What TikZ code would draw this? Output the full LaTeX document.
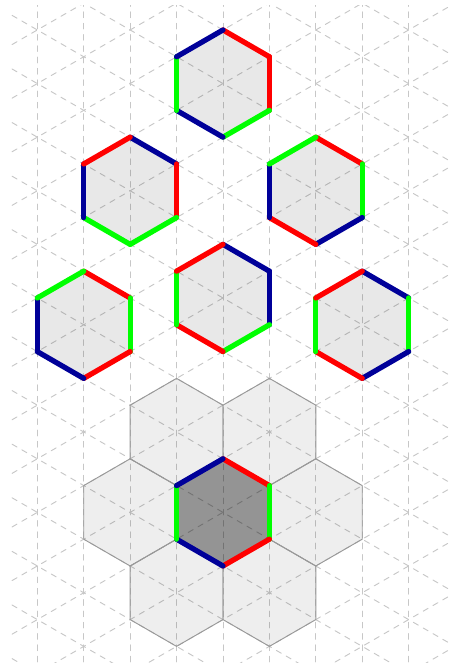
\documentclass[tikz,border=0pt]{standalone}
\usepackage{tikz}
\definecolor{rouge}{RGB}{255,0,0}
\definecolor{vert}{RGB}{0,255,0}
\definecolor{bleu}{RGB}{0,0,153}
\tikzset{
  grille/.style={dashed,line width=0.5pt,color=black!22},
  arete/.style={line width=2.8pt,line cap=round},
  fond/.style={fill=black,fill opacity=0.09},
  alveole/.style={fill=black,fill opacity=0.065,draw=black!40,draw opacity=1,line width=0.5pt},
  sombre/.style={fill=black,fill opacity=0.42}
}
% hexagone : centre, puis couleurs des aretes (haut-droite, droite, bas-droite, bas-gauche, gauche, haut-gauche)
\newcommand{\hexa}[8]{%
  \fill[#8] (#1) +(90:1) -- +(30:1) -- +(-30:1) -- +(-90:1) -- +(-150:1) -- +(150:1) -- cycle;
  \foreach \a/\b/\c in {90/30/#2,30/-30/#3,-30/-90/#4,-90/-150/#5,-150/150/#6,150/90/#7}
    {\draw[arete,\c] (#1) +(\a:1) -- +(\b:1);}
}
\newcommand{\alv}[1]{%
  \filldraw[alveole] (#1) +(90:1) -- +(30:1) -- +(-30:1) -- +(-90:1) -- +(-150:1) -- +(150:1) -- cycle;
}
\begin{document}
\begin{tikzpicture}[line cap=round,line join=round,x=1cm,y=1cm]
			\useasboundingbox (-4.16,-2.81) rectangle (4.236,9.559);
			% Grille
			\begin{scope}
			\clip (-4,-2.81) rectangle (4.236,9.46);
			\foreach \k in {-4,...,4}
				\draw[grille] (\k*0.866,-3) -- (\k*0.866,10);
			\foreach \m in {-6,...,12} {
				\draw[grille] (-4.3,\m-2.483) -- (4.3,\m+2.483);
				\draw[grille] (-4.3,\m+2.483) -- (4.3,\m-2.483);
			}
			\end{scope}
			% Centres
			\coordinate (haut) at (0,8);
			\coordinate (g2) at (-1.732,6);
			\coordinate (d2) at (1.732,6);
			\coordinate (g3) at (-2.598,3.5);
			\coordinate (m3) at (0,4);
			\coordinate (d3) at (2.598,3.5);
			\coordinate (c) at (0,0);
			% Rangee 1
			\hexa{haut}{rouge}{rouge}{vert}{bleu}{vert}{bleu}{fond}
			% Rangee 2
			\hexa{g2}{bleu}{rouge}{vert}{vert}{bleu}{rouge}{fond}
			\hexa{d2}{rouge}{vert}{bleu}{rouge}{bleu}{vert}{fond}
			% Rangee 3
			\hexa{g3}{rouge}{vert}{rouge}{bleu}{bleu}{vert}{fond}
			\hexa{m3}{bleu}{bleu}{vert}{rouge}{vert}{rouge}{fond}
			\hexa{d3}{bleu}{vert}{bleu}{rouge}{vert}{rouge}{fond}
			% Voisinage
			\foreach \x/\y in {-0.866/1.5,0.866/1.5,-1.732/0,1.732/0,-0.866/-1.5,0.866/-1.5}
				{\alv{\x,\y}}
			\hexa{c}{rouge}{vert}{rouge}{bleu}{vert}{bleu}{sombre}
\end{tikzpicture}
\end{document}
